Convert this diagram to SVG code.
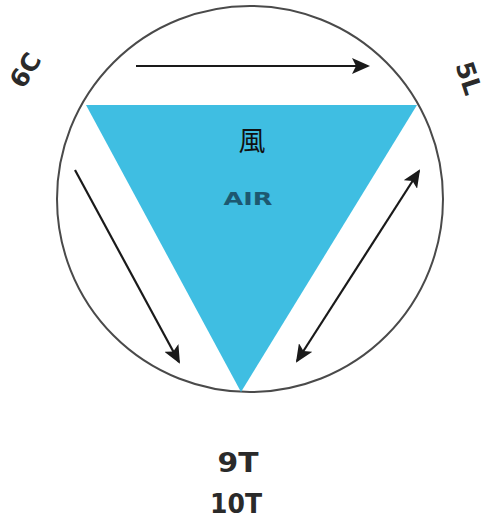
<svg xmlns="http://www.w3.org/2000/svg" width="491" height="522" viewBox="0 0 491 522">
<style>
.lbl{font-family:"DejaVu Sans","Liberation Sans",sans-serif;font-weight:bold;fill:#2a2a2a}
.conn{stroke:#1a1a1a;stroke-width:2.2;fill:none}
</style>
<defs>
<marker id="ah" markerUnits="userSpaceOnUse" markerWidth="18" markerHeight="16" refX="16" refY="8" orient="auto-start-reverse" viewBox="0 0 18 16">
<path d="M0,0 L18,8 L0,16 L4,8 Z" fill="#1a1a1a"/>
</marker>
</defs>
<rect width="491" height="522" fill="#ffffff"/>
<g id="circle">
<circle cx="250" cy="199" r="193" fill="none" stroke="#4a4a4a" stroke-width="2"/>
</g>
<g id="air-triangle">
<polygon points="86,105 417,105 241,392" fill="#3FBEE2"/>
<text x="252" y="151" font-family="'Noto Sans CJK TC','Noto Sans CJK SC',sans-serif" font-size="27" text-anchor="middle" fill="#111">風</text>
<text class="lbl" x="248" y="205" font-size="18" text-anchor="middle" style="fill:#1d5870" textLength="49" lengthAdjust="spacingAndGlyphs">AIR</text>
</g>
<g id="label-6C">
<text class="lbl" font-size="25" text-anchor="middle" transform="translate(25,70) rotate(-58)" dy="9">6C</text>
</g>
<g id="label-5L">
<text class="lbl" font-size="25" text-anchor="middle" transform="translate(469,78) rotate(72)" dy="9">5L</text>
</g>
<g id="label-9T-10T">
<text class="lbl" x="238" y="472" font-size="27" text-anchor="middle" textLength="41" lengthAdjust="spacingAndGlyphs">9T</text>
<text class="lbl" x="236" y="513" font-size="27" text-anchor="middle" textLength="52" lengthAdjust="spacingAndGlyphs">10T</text>
</g>
<g id="connectors">
<line class="conn" x1="136" y1="66" x2="368" y2="66" marker-end="url(#ah)"/>
<line class="conn" x1="75" y1="170" x2="179" y2="362" marker-end="url(#ah)"/>
<line class="conn" x1="297" y1="361" x2="419" y2="171" marker-start="url(#ah)" marker-end="url(#ah)"/>
</g>
</svg>
